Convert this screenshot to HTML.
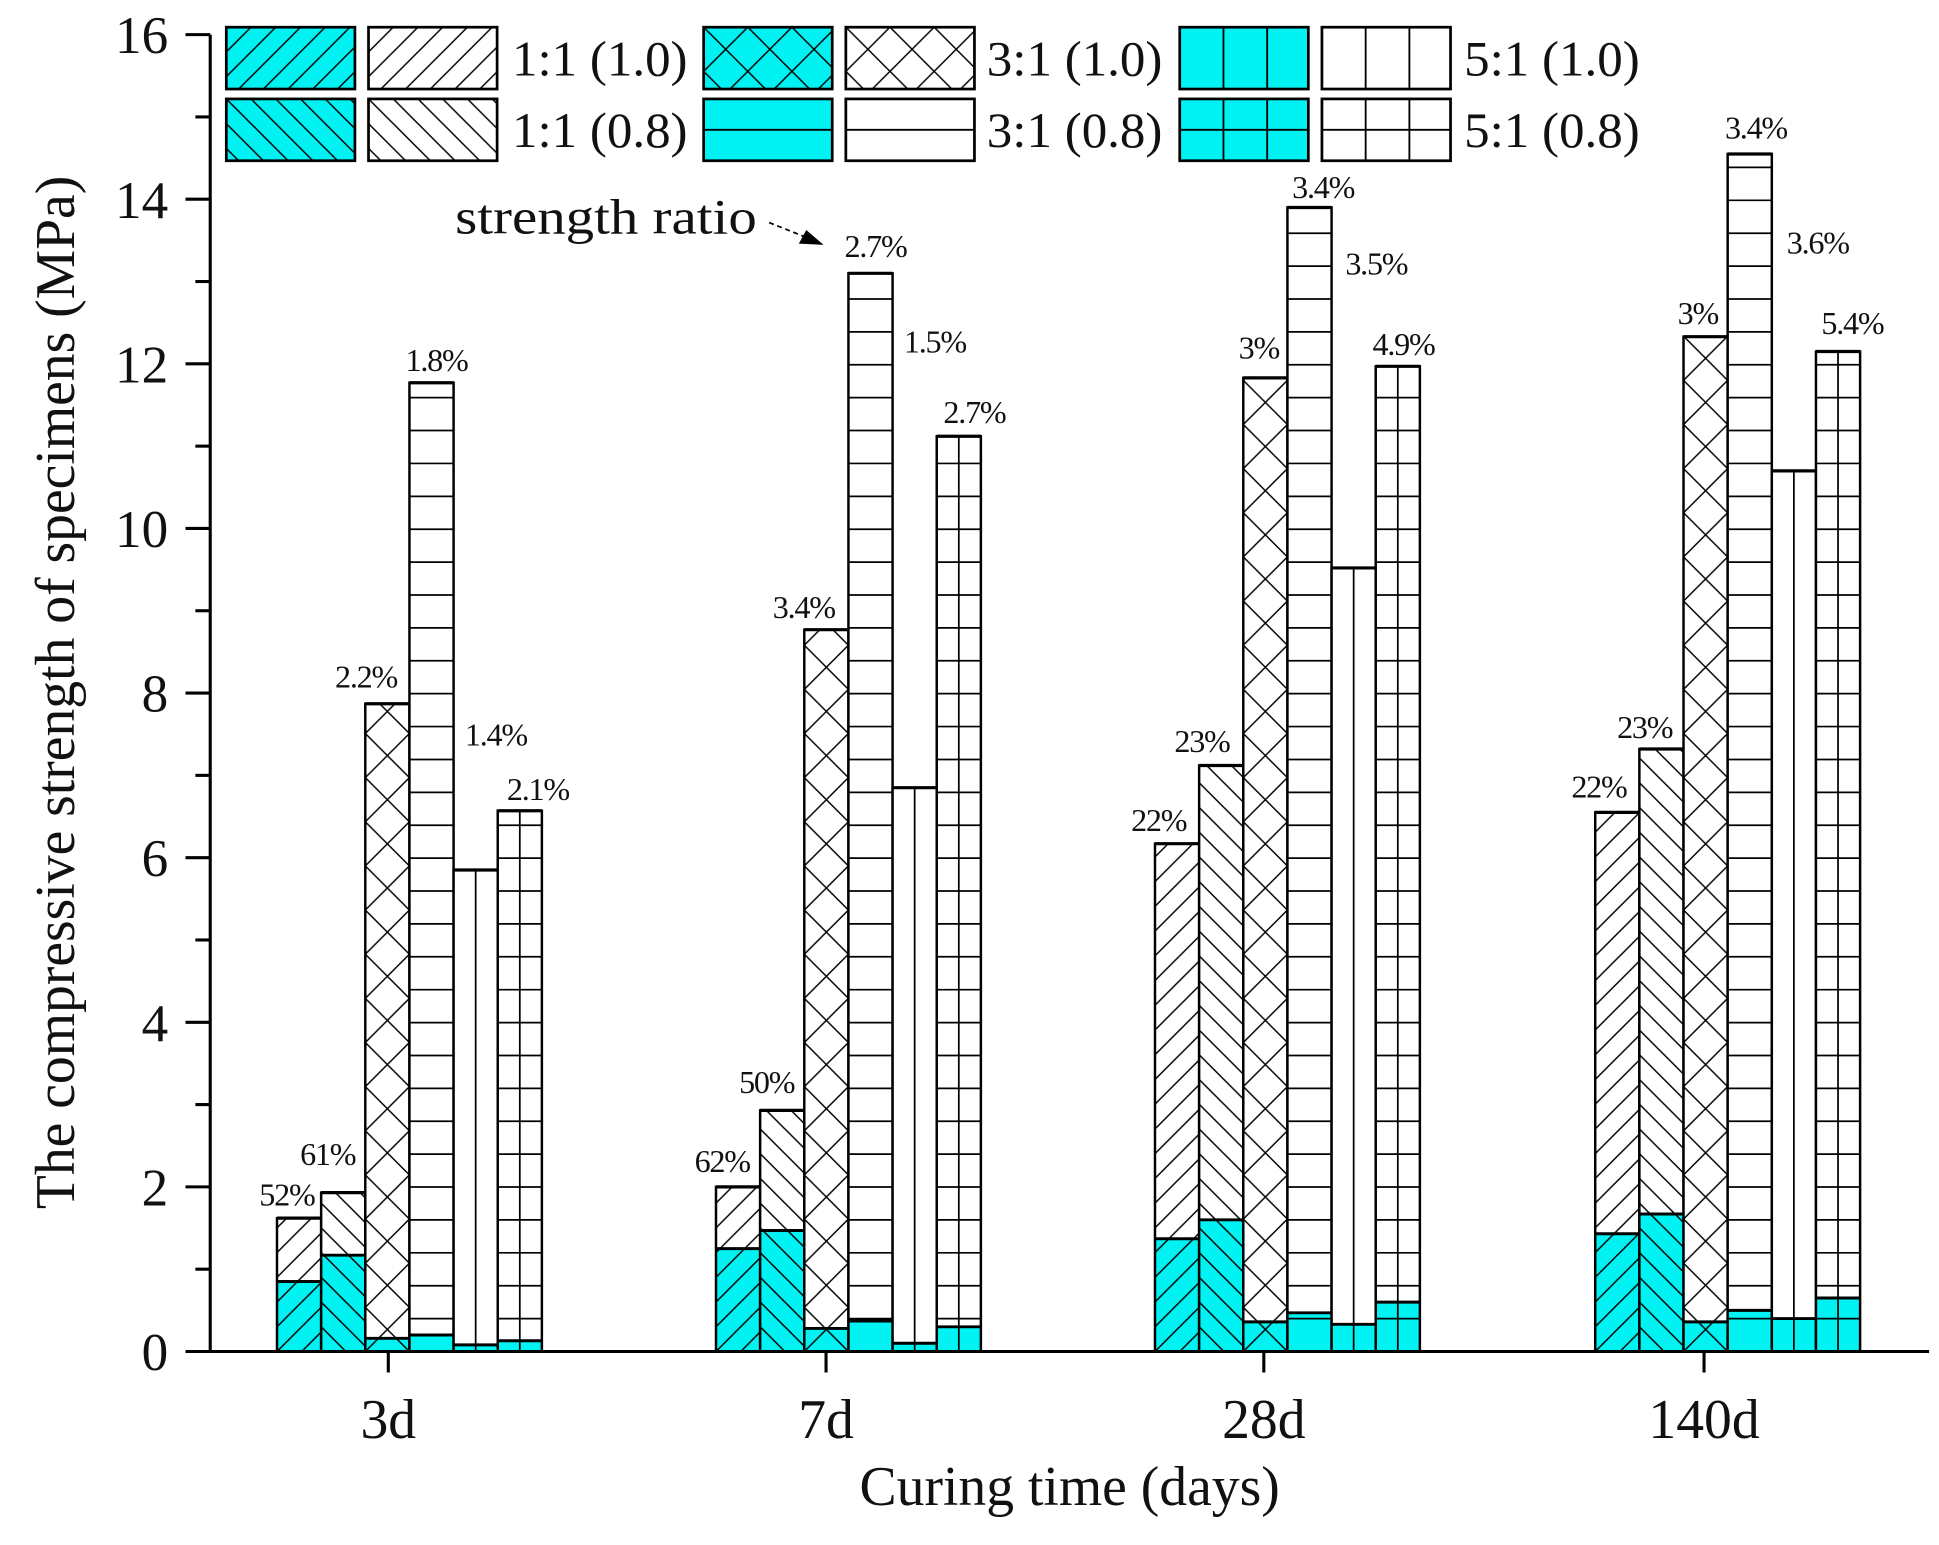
<!DOCTYPE html>
<html><head><meta charset="utf-8"><style>
html,body{margin:0;padding:0;background:#fff;}
svg{display:block;}
text{font-family:"Liberation Serif",serif;fill:#111;}
</style></head><body>
<svg id="s" width="1939" height="1545" viewBox="0 0 1568 1249.5" preserveAspectRatio="none" xmlns="http://www.w3.org/2000/svg">
<defs id="d"></defs>
<g id="g"></g>
</svg>
<script>
const NS="http://www.w3.org/2000/svg";
const s=document.getElementById('s'),g=document.getElementById('g'),d=document.getElementById('d');
function el(t,a,p){const e=document.createElementNS(NS,t);for(const k in a)e.setAttribute(k,a[k]);(p||g).appendChild(e);return e;}
const Y0=1093,PER=(1093-28)/16;
const y=v=>Y0-v*PER;
const CY="#00f2f2";
let pid=0;
function pattern(type,x,y0){
  const id="p"+(pid++);
  const p=el('pattern',{id:id,patternUnits:'userSpaceOnUse',x:x,y:y0});
  const S=20;
  if(type==='f'){
    p.setAttribute('width',S);p.setAttribute('height',S);
    el('path',{d:`M-1,${S+1} L${S+1},-1 M-${S/2},${S/2} L${S/2},-${S/2} M${S/2},${S*1.5} L${S*1.5},${S/2}`,stroke:'#000','stroke-width':1.2},p);
  }else if(type==='b'){
    p.setAttribute('width',S);p.setAttribute('height',S);
    el('path',{d:`M-1,-1 L${S+1},${S+1} M-${S/2},${S/2} L${S/2},${S*1.5} M${S/2},-${S/2} L${S*1.5},${S/2}`,stroke:'#000','stroke-width':1.2},p);
  }else if(type==='x'){
    const W=35.7,H=35.7;p.setAttribute('width',W);p.setAttribute('height',H);
    el('path',{d:`M0,0 L${W},${H} M${W},0 L0,${H}`,stroke:'#000','stroke-width':1.2},p);
  }
  d.appendChild(p);return "url(#"+id+")";
}
function patRect(type,x,yt,w,h,fill){
  el('rect',{x:x,y:yt,width:w,height:h,fill:fill});
  if(type==='f'||type==='b'||type==='x'){
    el('rect',{x:x,y:yt,width:w,height:h,fill:pattern(type,x,Y0)});
  }
  if(type==='h'||type==='g'){
    for(let yy=Y0-26.6;yy>yt+2;yy-=26.6) el('line',{x1:x,x2:x+w,y1:yy,y2:yy,stroke:'#000','stroke-width':1.4});
  }
  if(type==='v'||type==='g'){
    el('line',{x1:x+w/2,x2:x+w/2,y1:yt,y2:yt+h,stroke:'#000','stroke-width':1.4});
  }
}
const data=[
 [[1.62,0.85],[1.93,1.17],[7.87,0.16],[11.77,0.2],[5.85,0.08],[6.57,0.13]],
 [[2.0,1.25],[2.93,1.47],[8.77,0.28],[13.1,0.37],[6.85,0.1],[11.12,0.3]],
 [[6.17,1.37],[7.12,1.6],[11.83,0.36],[13.9,0.47],[9.52,0.33],[11.97,0.6]],
 [[6.55,1.43],[7.32,1.67],[12.33,0.36],[14.55,0.5],[10.7,0.4],[12.15,0.65]]];
const types=['f','b','x','h','v','g'];
const starts=[224,579,934,1290],BW=35.7;
data.forEach((grp,gi)=>grp.forEach((b,i)=>{
  const x=starts[gi]+i*BW,t=b[0],c=b[1];
  patRect(types[i],x,y(t),BW,y(c)-y(t),'#fff');
  patRect(types[i],x,y(c),BW,Y0-y(c),CY);
  el('line',{x1:x,x2:x+BW,y1:y(c),y2:y(c),stroke:'#000','stroke-width':2.4});
  el('rect',{x:x,y:y(t),width:BW,height:Y0-y(t),fill:'none',stroke:'#000','stroke-width':2});
  el('line',{x1:x,x2:x+BW,y1:y(t),y2:y(t),stroke:'#000','stroke-width':2.6});
}));
el('line',{x1:170,x2:170,y1:28,y2:1093,stroke:'#000','stroke-width':2.5});
el('line',{x1:170,x2:1560,y1:1093,y2:1093,stroke:'#000','stroke-width':2.5});
for(let v=0;v<=16;v++){
  const yy=y(v);
  el('line',{x1:v%2?158:150,x2:170,y1:yy,y2:yy,stroke:'#000','stroke-width':2.5});
  if(v%2===0){const t=el('text',{x:136,y:yy+15,'text-anchor':'end','font-size':43});t.textContent=v;}
}
[[314,'3d'],[668,'7d'],[1022,'28d'],[1378,'140d']].forEach(([x,l])=>{
  el('line',{x1:x,x2:x,y1:1093,y2:1110,stroke:'#000','stroke-width':2.5});
  const t=el('text',{x:x,y:1163,'text-anchor':'middle','font-size':45});t.textContent=l;
});
let t=el('text',{x:865,y:1217,'text-anchor':'middle','font-size':45});t.textContent='Curing time (days)';
t=el('text',{x:0,y:0,'text-anchor':'middle','font-size':45,transform:'translate(60,560) rotate(-90)'});t.textContent='The compressive strength of specimens (MPa)';
const labs=[[232,975,'52%'],[265,942,'61%'],[296,556,'2.2%'],[353,300,'1.8%'],[401,603,'1.4%'],[435,647,'2.1%'],
[584,948,'62%'],[620,884,'50%'],[650,500,'3.4%'],[708,208,'2.7%'],[756,285,'1.5%'],[788,342,'2.7%'],
[937,672,'22%'],[972,608,'23%'],[1018,290,'3%'],[1070,160,'3.4%'],[1113,222,'3.5%'],[1135,287,'4.9%'],
[1293,645,'22%'],[1330,597,'23%'],[1373,262,'3%'],[1420,112,'3.4%'],[1470,205,'3.6%'],[1498,270,'5.4%']];
labs.forEach(([x,yy,s])=>{const e=el('text',{x:x,y:yy,'text-anchor':'middle','font-size':26,'letter-spacing':-1});e.textContent=s;});
t=el('text',{x:368,y:189,'font-size':40,textLength:244,lengthAdjust:'spacingAndGlyphs'});t.textContent='strength ratio';
el('line',{x1:622,y1:180,x2:652,y2:192,stroke:'#000','stroke-width':1.4,'stroke-dasharray':'4,3'});
el('path',{d:'M666,198 L646,197 L652,186 Z',fill:'#000'});
const leg=[[183,298,414,'1:1 (1.0)','f',22],[569,684,798,'3:1 (1.0)','x',22],[954,1069,1184,'5:1 (1.0)','v',22],
[183,298,414,'1:1 (0.8)','b',80],[569,684,798,'3:1 (0.8)','h',80],[954,1069,1184,'5:1 (0.8)','g',80]];
leg.forEach(([a,b,tx,s,ty,yy])=>{
  [[a,CY],[b,'#fff']].forEach(([x,f])=>{
    const W=104,H=50;
    el('rect',{x:x,y:yy,width:W,height:H,fill:f});
    if(ty==='f'||ty==='b'||ty==='x') el('rect',{x:x,y:yy,width:W,height:H,fill:pattern(ty,x,yy)});
    if(ty==='h'||ty==='g') el('line',{x1:x,x2:x+W,y1:yy+H/2,y2:yy+H/2,stroke:'#000','stroke-width':1.5});
    if(ty==='v'||ty==='g'){el('line',{x1:x+W*0.34,x2:x+W*0.34,y1:yy,y2:yy+H,stroke:'#000','stroke-width':1.5});el('line',{x1:x+W*0.68,x2:x+W*0.68,y1:yy,y2:yy+H,stroke:'#000','stroke-width':1.5});}
    el('rect',{x:x,y:yy,width:W,height:H,fill:'none',stroke:'#000','stroke-width':2.2});
  });
  const e=el('text',{x:tx,y:yy+39,'font-size':40,textLength:142,lengthAdjust:'spacingAndGlyphs'});e.textContent=s;
});
</script>
</body></html>
